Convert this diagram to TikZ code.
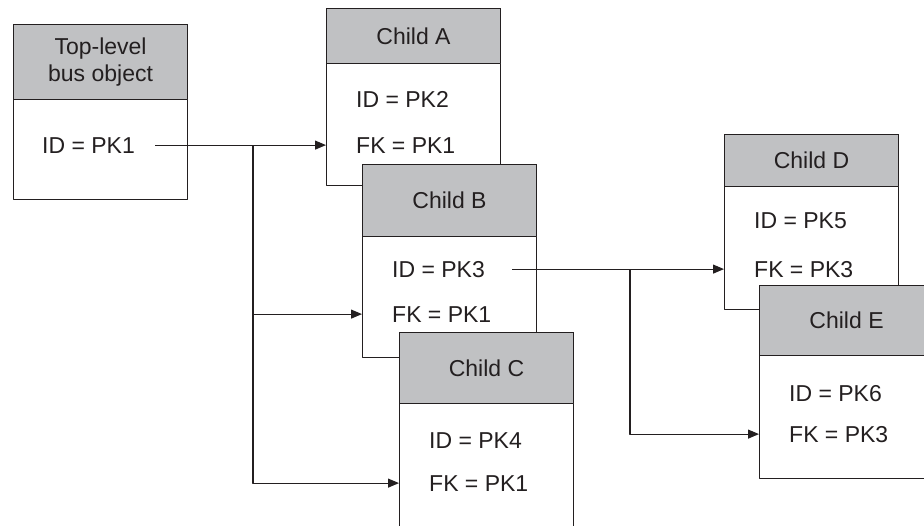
\documentclass[tikz,border=0pt]{standalone}
\usepackage{fontspec}
\setmainfont{Liberation Sans}
\usetikzlibrary{arrows.meta}
\definecolor{ink}{RGB}{35,31,32}
\definecolor{headgray}{RGB}{192,193,195}
\tikzset{
	body/.style={draw=ink, fill=white, line width=1.1pt, minimum width=174pt, inner sep=0pt, anchor=north west},
	head/.style={body, fill=headgray, align=center, text=ink},
	field/.style={anchor=west, inner sep=0pt, text=ink},
	link/.style={draw=ink, line width=1.1pt, ->},
}
\begin{document}
\begin{tikzpicture}[x=1pt, y=-1pt, >={Triangle[length=11pt,width=9pt]}, line join=round, font=\fontsize{23}{27}\selectfont]
	\useasboundingbox (0,0) rectangle (924,526);
	\path (253,0) coordinate (xT) (630,0) coordinate (xB);
	\foreach \n/\x/\y/\h/\t/\l in {T/13/24/75/175/{Top-level\\bus object},A/326/8/55/177/Child A,B/362/164/72/193/Child B,C/399/332/71/300/Child C,D/724/134/52/175/Child D,E/759/285/70/193/Child E}{
		\node[body, minimum height=\t pt] (box\n) at (\x,\y) {};
		\node[head, minimum height=\h pt] (head\n) at (\x,\y) {\l};
	}
	\node[field] (idT) at ([xshift=29pt, yshift=-45pt]headT.south west) {ID = PK1};
	\foreach \n/\d/\g/\i/\f in {A/35/46/2/1,B/32/45/3/1,C/36/43/4/1,D/34/48/5/3,E/37/41/6/3}{
		\node[field] (id\n) at ([xshift=30pt, yshift=-\d pt]head\n.south west) {ID = PK\i};
		\node[field] (fk\n) at ([yshift=-\g pt]id\n.west) {FK = PK\f};
	}
	\draw[link, shorten <=20pt] (idT.east) -- (fkA -| boxA.west);
	\draw[link] (idT -| xT) |- (fkC -| boxC.west);
	\draw[link] (fkB -| xT) -- (fkB -| boxB.west);
	\draw[link, shorten <=27pt] (idB.east) -- (fkD -| boxD.west);
	\draw[link] (idB -| xB) |- (fkE -| boxE.west);
\end{tikzpicture}
\end{document}
